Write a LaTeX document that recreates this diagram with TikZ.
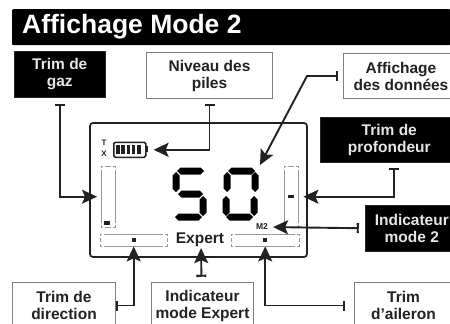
\documentclass[tikz,border=0pt]{standalone}
\usepackage{fontspec}
\setmainfont{Liberation Sans}
\usetikzlibrary{arrows.meta}
\definecolor{ink}{HTML}{222222}
\tikzset{x=1pt,y=-1pt,
 blackbox/.style={fill=black,draw=black!85,text=white!90!black,font=\bfseries\fontsize{15.5}{17}\selectfont,align=center,inner sep=0pt,line width=.6pt},
 whitebox/.style={fill=white,draw=black!50,line width=1pt,text=ink,font=\bfseries\fontsize{15.5}{17}\selectfont,align=center,inner sep=0pt},
 conn/.style={draw=ink,line width=1.9pt,{Bar[width=10pt,length=2.4pt]}-{Stealth[length=15pt,width=14pt,inset=3pt]}},
 barline/.style={draw=black!40,line width=.9pt},
 lcdmark/.style={fill=ink},
 lcdframe/.style={draw=ink,line width=1.7pt,rounded corners=3pt},
 seg/.style={fill=black,draw=none},
 lcdtext/.style={text=ink,inner sep=0pt,font=\bfseries\fontsize{#1}{#1}\selectfont}
}
\newcommand{\bx}[7]{\node[#1,minimum width=#4pt-#2pt,minimum height=#5pt-#3pt,anchor=north west] (#6) at (#2,#3) {#7};}
\newcommand{\hseg}[3]{\fill[seg] (#1,#3) -- (#1+3.5,#3-3.5) -- (#2-3.5,#3-3.5) -- (#2,#3) -- (#2-3.5,#3+3.5) -- (#1+3.5,#3+3.5) -- cycle;}
\newcommand{\vseg}[3]{\fill[seg] (#1,#2) -- (#1+3.5,#2+3.5) -- (#1+3.5,#3-3.5) -- (#1,#3) -- (#1-3.5,#3-3.5) -- (#1-3.5,#2+3.5) -- cycle;}
\newcommand{\lbar}[5]{%
 \node[minimum width=#4pt-#2pt,minimum height=#5pt-#3pt,anchor=north west,inner sep=0pt] (#1) at (#2,#3) {};
 \draw[barline] (#2+4,#3) -- (#4-4,#3) (#2+4,#5) -- (#4-4,#5) (#2,#3+4) -- (#2,#5-4) (#4,#3+4) -- (#4,#5-4);
 \draw[barline] (#2,#3+2) |- (#2+2,#3) (#4-2,#3) -| (#4,#3+2) (#2,#5-2) |- (#2+2,#5) (#4-2,#5) -| (#4,#5-2);}
\begin{document}
\begin{tikzpicture}
\useasboundingbox (0,0) rectangle (450,324);
\fill[white] (0,0) rectangle (450,324);
\node[fill=black,minimum width=438pt,minimum height=36pt,anchor=north west,inner sep=0pt,rounded corners=1pt] (title) at (12,9) {};
\node[text=white,font=\bfseries\fontsize{26.5}{28}\selectfont,anchor=west,inner sep=0pt] (titletext) at (22,27) {Affichage Mode 2};
% labels
\bx{blackbox}{14}{51}{105}{97}{gaz}{Trim de\\gaz}
\bx{whitebox}{146}{52}{272}{98}{niveau}{Niveau des\\piles}
\bx{whitebox}{343}{53}{458}{98}{donnees}{Affichage\\des données}
\bx{blackbox}{320}{117}{458}{162}{prof}{Trim de\\profondeur}
\bx{blackbox}{365}{205}{458}{251}{ind2}{Indicateur\\mode 2}
\bx{whitebox}{12}{282}{115}{328}{dir}{Trim de\\direction}
\bx{whitebox}{151}{282}{253}{328}{exp}{Indicateur\\mode Expert}
\bx{whitebox}{354}{282}{452}{328}{ail}{Trim\\d'aileron}
% LCD
\draw[lcdframe] (90,123) rectangle (307,257);
\lbar{leftbar}{101}{166}{115}{227}
\lbar{rightbar}{284}{166}{298}{227}
\lbar{botl}{100}{234}{167}{246}
\lbar{botr}{231}{234}{299}{246}
\fill[lcdmark] (104,221) rectangle (110,225);
\fill[lcdmark] (288,195) rectangle (294,198);
\fill[lcdmark] (132,238) rectangle (136,242);
\fill[lcdmark] (263,238) rectangle (267,242);
% battery
\node[draw=ink,line width=1.6pt,rounded corners=1.5pt,minimum width=32pt,minimum height=15pt,inner sep=0pt,anchor=north west] (batt) at (113,141.5) {};
\fill[ink] (145,146) rectangle (148,152);
\foreach \i in {0,...,4}{\fill[ink] (116+5.3*\i,144.5) rectangle (119.5+5.3*\i,153.5);}
\node[lcdtext=8] (tlab) at (104,143) {T};
\node[lcdtext=8] (xlab) at (104,154) {X};
% digits
\hseg{177}{204}{171}\vseg{176}{172}{192}\hseg{178}{203}{194}\vseg{203}{196}{216}\hseg{175}{202}{217}
\hseg{228}{255}{171}\vseg{227}{172}{192}\vseg{255}{172}{192}\vseg{226}{196}{216}\vseg{254}{196}{216}\hseg{226}{253}{217}
\coordinate (digits) at (260,165);
\node[lcdtext=15.5] (expert) at (200,240) {Expert};
\node[lcdtext=8.5] (m2) at (262,227) {M2};
% connectors
\draw[conn,shorten <=6pt,shorten >=4pt] (gaz.south) |- (leftbar.west);
\draw[conn,shorten <=5pt,shorten >=7pt] (niveau.south) |- (batt.east);
\draw[conn,shorten <=5pt] (donnees.west) -- ++(-36,0) -- (digits);
\draw[conn,shorten <=5pt,shorten >=5pt] ([xshift=5pt]prof.south) |- (rightbar.east);
\draw[conn,shorten <=6pt,shorten >=5pt] (ind2.west) -- (m2.east);
\draw[conn,shorten <=-2pt] ([xshift=2pt]dir.east) -| (botl.south);
\draw[conn,shorten <=5pt,shorten >=1pt] ([xshift=-1pt]exp.north) -- ([xshift=1pt]expert.south);
\draw[conn,shorten <=9pt] (ail.west) -| (botr.south);
\end{tikzpicture}
\end{document}
